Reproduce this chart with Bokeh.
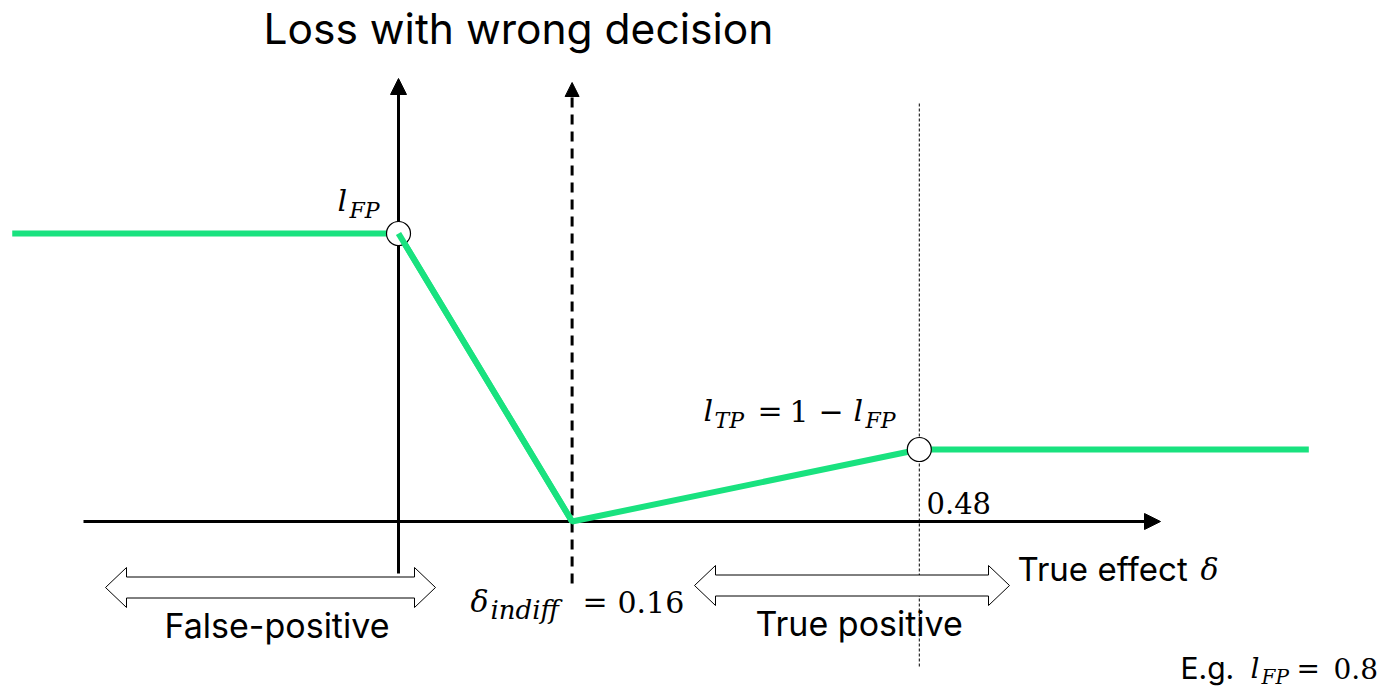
from bokeh.plotting import figure
from bokeh.models import Range1d, Label, Arrow, NormalHead
from bokeh.embed import file_html
from bokeh.resources import INLINE

W, H = 1385, 691

# Loss of a wrong decision as a function of the true effect delta
delta = [-0.356, 0.0, 0.16, 0.48, 0.839]
l_fp = 0.8
l_tp = 1 - l_fp
loss = [l_fp, l_fp, 0.0, l_tp, l_tp]
delta_indiff = 0.16
delta_tp = 0.48

GREEN = "#19E27F"
SANS = "Inter"
MATH = "DejaVu Serif"

# canvas geometry: pixel position of the origin and pixels per unit
X0, XS = 398.0, 1085.0
Y0, YS = 521.0, 360.0


def X(px):
    return (px - X0) / XS


def Y(py):
    return (Y0 - py) / YS


p = figure(width=W, height=H, output_backend="svg", toolbar_location=None,
           x_range=Range1d(X(0), X(W)), y_range=Range1d(Y(H), Y(0)),
           x_axis_location=None, y_axis_location=None, min_border=0,
           outline_line_color=None, background_fill_color="white",
           border_fill_color="white")
p.grid.visible = False

# thin dotted guide at the true-positive threshold
p.segment(x0=[delta_tp], y0=[Y(103)], x1=[delta_tp], y1=[Y(666)],
          line_color="black", line_width=1, line_dash="3 2")

# axes drawn as arrows
p.add_layout(Arrow(x_start=X(83), y_start=0, x_end=X(1160), y_end=0,
                   line_width=3, line_color="black", level="underlay",
                   end=NormalHead(size=16, fill_color="black", line_color="black")))
p.add_layout(Arrow(x_start=0, y_start=Y(573), x_end=0, y_end=Y(78),
                   line_width=3, line_color="black", level="underlay",
                   end=NormalHead(size=16, fill_color="black", line_color="black")))
p.add_layout(Arrow(x_start=delta_indiff, y_start=Y(583), x_end=delta_indiff, y_end=Y(82),
                   line_width=3, line_color="black", line_dash="10 7", level="underlay",
                   end=NormalHead(size=14, fill_color="black", line_color="black")))


def block_arrow(x_left, x_right, yc, shaft=10.5, head=20.0, head_len=21.0):
    xs_px = [x_left, x_left + head_len, x_left + head_len, x_right - head_len,
             x_right - head_len, x_right, x_right - head_len, x_right - head_len,
             x_left + head_len, x_left + head_len]
    ys_px = [yc, yc - head, yc - shaft, yc - shaft, yc - head, yc, yc + head,
             yc + shaft, yc + shaft, yc + head]
    return [X(v) for v in xs_px], [Y(v) for v in ys_px]


ax1, ay1 = block_arrow(105, 435, 587)
ax2, ay2 = block_arrow(694, 1009, 585)
p.patches(xs=[ax1, ax2], ys=[ay1, ay2], fill_color="white",
          line_color="black", line_width=1)

# loss curve
p.line(delta, loss, line_color=GREEN, line_width=6)
p.scatter(x=[delta[1], delta[3]], y=[loss[1], loss[3]], size=24,
          fill_color="white", line_color="black", line_width=1.2)
p.line(delta[1:3], loss[1:3], line_color=GREEN, line_width=6)


def txt(s, px, py, size, font=SANS, style="normal"):
    # py is the pixel baseline measured from the top of the canvas
    p.add_layout(Label(x=X(px), y=Y(py - 0.36 * size), text=s, text_font=font,
                       text_font_size=f"{size}px", text_font_style=style,
                       text_color="black", text_baseline="alphabetic",
                       text_align="left"))


txt("Loss with wrong decision", 263, 43, 42.5)

# l_FP at the corner point
txt("l", 337, 211, 30, MATH, "italic")
txt("FP", 349, 218, 22, MATH, "italic")

# l_TP = 1 - l_FP, next to the true-positive point
b = 421
txt("l", 703, b, 30, MATH, "italic")
txt("TP", 714, b + 7, 22, MATH, "italic")
txt("=", 757, b, 30, MATH)
txt("1", 789, b, 30, MATH)
txt("\u2212", 818, b, 30, MATH)
txt("l", 853, b, 30, MATH, "italic")
txt("FP", 865, b + 7, 22, MATH, "italic")

txt("0.48", 926, 513, 29, MATH)

# delta_indiff = 0.16
txt("\u03b4", 470, 612, 30, MATH, "italic")
txt("indiff", 490, 619, 26, MATH, "italic")
txt("=", 582, 612, 30, MATH)
txt("0.16", 617, 612, 30, MATH)

txt("True effect", 1017, 580, 33)
txt("\u03b4", 1200, 580, 30, MATH, "italic")
txt("False-positive", 164, 637, 34)
txt("True positive", 755, 635, 34)

txt("E.g.", 1180, 678, 30)
txt("l", 1250, 678, 28, MATH, "italic")
txt("FP", 1261, 684, 20, MATH, "italic")
txt("=", 1296, 678, 28, MATH)
txt("0.8", 1333, 678, 28, MATH)

open("out.html", "w").write(file_html(p, INLINE))
